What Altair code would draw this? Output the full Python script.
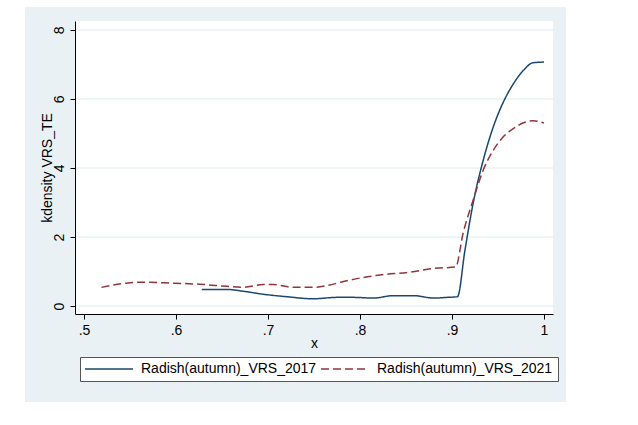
import altair as alt
import pandas as pd

# Series: Radish(autumn)_VRS_2017 (solid blue)
x_2017 = [0.628, 0.655, 0.675, 0.695, 0.72, 0.749, 0.775, 0.793, 0.815, 0.836, 0.858, 0.880, 0.895, 0.906,
          0.914, 0.923, 0.934, 0.945, 0.956, 0.967, 0.978, 0.988, 1.0]
y_2017 = [0.48, 0.48, 0.42, 0.34, 0.27, 0.21, 0.25, 0.25, 0.23, 0.30, 0.30, 0.23, 0.25, 0.27,
          1.60, 2.98, 4.23, 5.20, 5.92, 6.45, 6.84, 7.05, 7.07]

# Series: Radish(autumn)_VRS_2021 (dashed red)
x_2021 = [0.519, 0.546, 0.565, 0.597, 0.626, 0.655, 0.673, 0.695, 0.706, 0.728, 0.749, 0.764, 0.782,
          0.800, 0.822, 0.854, 0.880, 0.904, 0.912, 0.923, 0.934, 0.945, 0.956, 0.967, 0.978, 0.988, 1.0]
y_2021 = [0.54, 0.66, 0.69, 0.66, 0.63, 0.57, 0.54, 0.62, 0.62, 0.54, 0.54, 0.59, 0.71,
          0.81, 0.90, 0.98, 1.09, 1.13, 2.10, 3.07, 3.94, 4.52, 4.91, 5.15, 5.31, 5.37, 5.30]

series_names = ["Radish(autumn)_VRS_2017", "Radish(autumn)_VRS_2021"]
x_ticks = [0.5, 0.6, 0.7, 0.8, 0.9, 1.0]
y_ticks = [0, 2, 4, 6, 8]

df = pd.concat([
    pd.DataFrame({"x": x_2017, "y": y_2017, "series": series_names[0], "order": range(len(x_2017))}),
    pd.DataFrame({"x": x_2021, "y": y_2021, "series": series_names[1], "order": range(len(x_2021))}),
])
grid_df = pd.DataFrame({"y": y_ticks})

FONT = "Liberation Sans"
W, H = 478, 293
dummy = pd.DataFrame({"a": [0]})

panel = alt.Chart(dummy).mark_rect(color="#EAF1F4").encode(
    x=alt.value(-50), x2=alt.value(491), y=alt.value(-14), y2=alt.value(381)
)
plotbg = alt.Chart(dummy).mark_rect(color="white").encode(
    x=alt.value(0), x2=alt.value(W), y=alt.value(0), y2=alt.value(H)
)

xscale = alt.Scale(domain=[0.4902, 1.0098], nice=False, zero=False)
yscale = alt.Scale(domain=[-0.232, 8.26], nice=False, zero=False)

grid = alt.Chart(grid_df).mark_rule(color="#EAF2F3", strokeWidth=1.5).encode(
    y=alt.Y("y:Q", scale=yscale), x=alt.value(0), x2=alt.value(W)
)

lines = alt.Chart(df).mark_line(strokeWidth=1.5, interpolate="monotone").encode(
    x=alt.X("x:Q", scale=xscale, title="x",
            axis=alt.Axis(values=x_ticks, grid=False, zindex=1, titlePadding=-1,
                          labelExpr="datum.value == 1 ? '1' : replace(format(datum.value, '.1f'), '0.', '.')")),
    y=alt.Y("y:Q", scale=yscale, title="kdensity VRS_TE",
            axis=alt.Axis(values=y_ticks, grid=False, zindex=1, labelAngle=270, labelAlign="center",
                          labelBaseline="bottom", titlePadding=-2)),
    color=alt.Color("series:N", title=None,
                    scale=alt.Scale(domain=series_names, range=["#1A476F", "#90353B"])),
    strokeDash=alt.StrokeDash("series:N", title=None,
                              scale=alt.Scale(domain=series_names, range=[[1, 0], [8, 4]])),
    order="order:Q",
)

chart = alt.layer(panel, plotbg, grid, lines).properties(
    width=W, height=H,
    autosize=alt.AutoSizeParams(type="none"),
    padding={"left": 75, "top": 21, "right": 638 - 75 - W, "bottom": 425 - 21 - H},
    background="white",
).configure_view(stroke=None).configure_axis(
    labelFont=FONT, titleFont=FONT, labelFontSize=14, titleFontSize=14,
    labelColor="#000000", titleColor="#000000", titleFontWeight="normal",
    domainColor="#000000", tickColor="#000000", domainWidth=1, tickWidth=1, tickSize=5,
    labelPadding=4,
).configure_legend(
    orient="none", legendX=5, legendY=336, direction="horizontal",
    symbolType="M-4,0H4", symbolSize=144, symbolStrokeWidth=1.5, symbolOffset=17,
    labelFont=FONT, labelFontSize=14, labelColor="#000000", labelOffset=25,
    columnPadding=1, padding=5, strokeColor="#555555", fillColor="white",
    labelLimit=300,
)

chart.save("out.html", embed_options={"renderer": "svg", "actions": False})
